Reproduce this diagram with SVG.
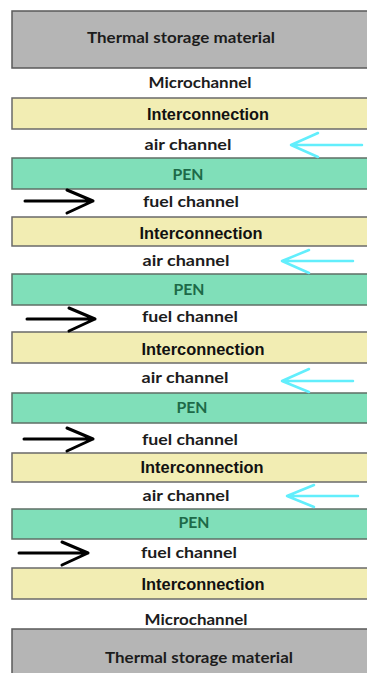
<svg xmlns="http://www.w3.org/2000/svg" width="367" height="673" viewBox="0 0 367 673">
<style>
.tsm{fill:#b5b5b5;stroke:#5a5a5a;stroke-width:1.5}
.ic{fill:#f2edb3;stroke:#6a6a6a;stroke-width:1.5}
.pen{fill:#80dfb9;stroke:#5f6f66;stroke-width:1.5}
.t{font-family:"Lato","Open Sans",sans-serif;font-weight:bold;font-size:16px;fill:#1c1c1c;text-anchor:middle}
.ta{font-family:"Liberation Sans",Arial,sans-serif;font-weight:bold;font-size:16px;fill:#111;text-anchor:middle}
.tp{font-family:"Lato","Open Sans",sans-serif;font-weight:bold;font-size:16px;fill:#1d6a48;text-anchor:middle}
.air{fill:none;stroke:#62eefc;stroke-width:2.5;stroke-linecap:round;stroke-linejoin:round}
.fuel{fill:none;stroke:#000;stroke-width:3;stroke-linecap:round;stroke-linejoin:round}
</style>
<rect width="367" height="673" fill="#fff"/>

<g id="tsm-top"><rect class="tsm" x="12" y="11" width="370" height="57"/><text class="t" x="181" y="43" textLength="188" lengthAdjust="spacingAndGlyphs">Thermal storage material</text></g>
<g id="micro-top"><text class="t" x="200" y="88" textLength="103" lengthAdjust="spacingAndGlyphs">Microchannel</text></g>

<g id="ic1"><rect class="ic" x="12" y="98" width="370" height="31"/><text class="ta" x="208" y="120" textLength="122" lengthAdjust="spacingAndGlyphs">Interconnection</text></g>
<g id="air1"><text class="t" x="188" y="150" textLength="87" lengthAdjust="spacingAndGlyphs">air channel</text></g>
<g id="pen1"><rect class="pen" x="12" y="158" width="370" height="31"/><text class="tp" x="188" y="180" textLength="31" lengthAdjust="spacingAndGlyphs">PEN</text></g>
<g id="fuel1"><text class="t" x="191" y="207" textLength="96" lengthAdjust="spacingAndGlyphs">fuel channel</text></g>

<g id="ic2"><rect class="ic" x="12" y="217" width="370" height="29"/><text class="ta" x="201" y="239" textLength="123" lengthAdjust="spacingAndGlyphs">Interconnection</text></g>
<g id="air2"><text class="t" x="186" y="266" textLength="87" lengthAdjust="spacingAndGlyphs">air channel</text></g>
<g id="pen2"><rect class="pen" x="12" y="274" width="370" height="31"/><text class="tp" x="189" y="295" textLength="31" lengthAdjust="spacingAndGlyphs">PEN</text></g>
<g id="fuel2"><text class="t" x="190" y="322" textLength="96" lengthAdjust="spacingAndGlyphs">fuel channel</text></g>

<g id="ic3"><rect class="ic" x="12" y="332" width="370" height="31"/><text class="ta" x="203" y="355" textLength="123" lengthAdjust="spacingAndGlyphs">Interconnection</text></g>
<g id="air3"><text class="t" x="185" y="383" textLength="87" lengthAdjust="spacingAndGlyphs">air channel</text></g>
<g id="pen3"><rect class="pen" x="12" y="393" width="370" height="30"/><text class="tp" x="192" y="413" textLength="31" lengthAdjust="spacingAndGlyphs">PEN</text></g>
<g id="fuel3"><text class="t" x="190" y="445" textLength="96" lengthAdjust="spacingAndGlyphs">fuel channel</text></g>

<g id="ic4"><rect class="ic" x="12" y="453" width="370" height="29"/><text class="ta" x="202" y="473" textLength="123" lengthAdjust="spacingAndGlyphs">Interconnection</text></g>
<g id="air4"><text class="t" x="186" y="501" textLength="87" lengthAdjust="spacingAndGlyphs">air channel</text></g>
<g id="pen4"><rect class="pen" x="12" y="509" width="370" height="30"/><text class="tp" x="194" y="528" textLength="31" lengthAdjust="spacingAndGlyphs">PEN</text></g>
<g id="fuel4"><text class="t" x="189" y="558" textLength="96" lengthAdjust="spacingAndGlyphs">fuel channel</text></g>

<g id="ic5"><rect class="ic" x="12" y="568" width="370" height="31"/><text class="ta" x="203" y="590" textLength="123" lengthAdjust="spacingAndGlyphs">Interconnection</text></g>
<g id="micro-bottom"><text class="t" x="196" y="625" textLength="103" lengthAdjust="spacingAndGlyphs">Microchannel</text></g>
<g id="tsm-bottom"><rect class="tsm" x="12" y="629" width="370" height="60"/><text class="t" x="199" y="663" textLength="188" lengthAdjust="spacingAndGlyphs">Thermal storage material</text></g>

<g id="connectors">
<path class="air" d="M362 145H291M318 133L291 145L318 157"/>
<path class="air" d="M353 261H282M309 250L282 261L309 273"/>
<path class="air" d="M353 381H282M309 369L282 381L309 392"/>
<path class="air" d="M358 496H287M314 485L287 496L314 507"/>
<path class="fuel" d="M25 201H93M67 190L93 201L67 213"/>
<path class="fuel" d="M27 319H95M69 308L95 319L69 331"/>
<path class="fuel" d="M24 439H93M67 428L93 439L67 451"/>
<path class="fuel" d="M19 553H88M62 542L88 553L62 565"/>
</g>
</svg>
